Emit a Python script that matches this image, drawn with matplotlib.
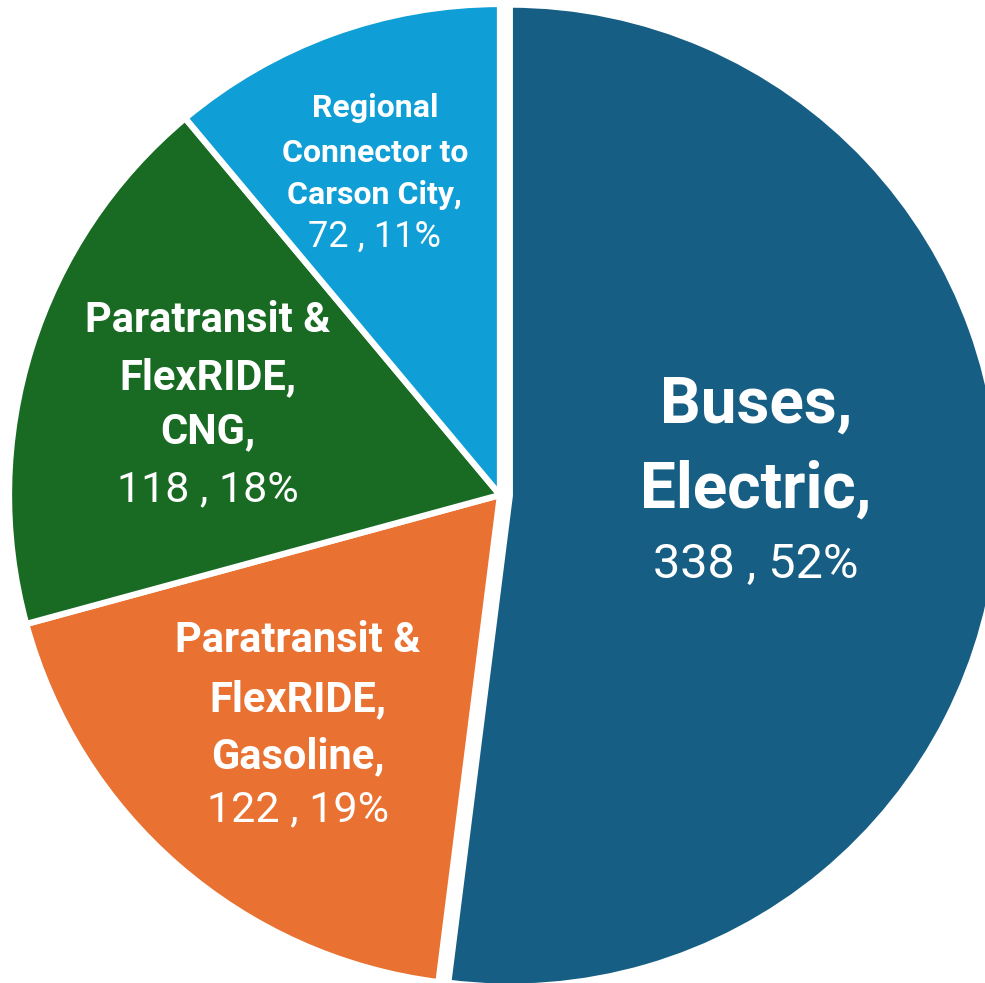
"""
Pie chart of fleet composition by vehicle type and fuel.
"""
import numpy as np
import matplotlib.pyplot as plt

categories = [
    "Buses,\nElectric,",
    "Paratransit &\nFlexRIDE,\nGasoline,",
    "Paratransit &\nFlexRIDE,\nCNG,",
    "Regional\nConnector to\nCarson City,",
]
vehicles = [338, 122, 118, 72]
colors = ["#165E83", "#E97132", "#196B24", "#0F9ED5"]
explode = [0.02, 0, 0, 0]

# label styling per slice: centre of the text block (data units),
# name size, value size, gaps between lines (px)
label_pos = [(0.521, 0.017), (-0.411, -0.472), (-0.595, 0.183), (-0.255, 0.655)]
name_size = [46, 30, 30, 23]
value_size = [35, 31, 31, 26]
line_gaps = [[85, 75], [60, 57, 53], [58, 54, 58], [45, 42, 42]]

DPI = 100
fig = plt.figure(figsize=(9.85, 9.83), dpi=DPI)
ax = fig.add_axes([0, 0, 1, 1])

wedges, _ = ax.pie(
    vehicles,
    colors=colors,
    explode=explode,
    startangle=90,
    counterclock=False,
    wedgeprops=dict(edgecolor="white", linewidth=4.5),
)

# pixel-fitted view: pie centre at (500, 495), radius 491 px
R = 491
ax.set_xlim(-500 / R, 485 / R)
ax.set_ylim(-(983 - 495) / R, 495 / R)
ax.axis("off")

total = sum(vehicles)
font = "Roboto"
for i in range(len(vehicles)):
    pct = round(100 * vehicles[i] / total)
    names = categories[i].split("\n")
    lines = [(n, "bold", name_size[i]) for n in names]
    lines.append((f"{vehicles[i]} , {pct}%", "normal", value_size[i]))

    ys = np.concatenate([[0], np.cumsum(line_gaps[i])])
    ys = (ys - ys.mean()) * 72 / DPI
    for (txt, weight, size), dy in zip(lines, ys):
        ax.annotate(
            txt,
            xy=label_pos[i],
            xytext=(0, -dy),
            textcoords="offset points",
            ha="center",
            va="center",
            color="white",
            fontsize=size,
            fontweight=weight,
            family=font,
        )

fig.savefig("out.png", dpi=DPI)
